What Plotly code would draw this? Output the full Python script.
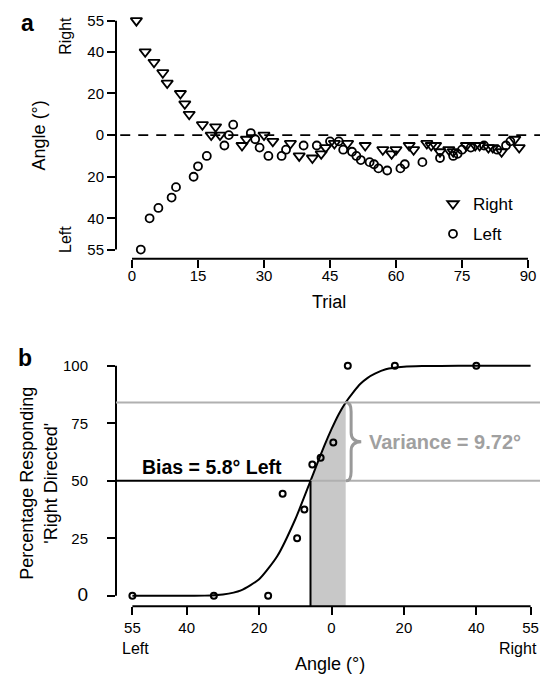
import plotly.graph_objects as go

# ---------------- Panel a: staircase data (trial, angle; Right = +, Left = -) ----------------
right_trial = [1, 3, 5, 7, 8, 11, 12, 13, 16, 18, 19, 20, 25, 26, 30, 32, 36, 38, 41, 43,
               44, 46, 49, 53, 57, 59, 60, 63, 64, 67, 68, 69, 70, 72, 73, 76, 78, 79, 81, 82,
               84, 87, 88]
right_angle = [55, 40, 35, 30, 25, 20, 15, 10, 5, 0, 4, 0, -5, -2, 0, -3, -4, -10, -11, -9,
               -6, -4, -4, -5, -7, -9, -7, -5, -7, -4, -5, -5, -8, -7, -8, -5, -5, -5, -6, -6,
               -8, -2, -6]
left_trial = [2, 4, 6, 9, 10, 14, 15, 17, 21, 22, 23, 27, 28, 29, 31, 34, 35, 39, 42, 45,
              47, 48, 50, 51, 52, 54, 55, 56, 58, 61, 62, 66, 70, 73, 74, 75, 77, 80, 83, 85,
              86]
left_angle = [-55, -40, -35, -30, -25, -20, -15, -10, -5, 0, 5, 1, -2, -6, -10, -10, -7, -5, -5, -3,
              -3, -7, -8, -10, -12, -13, -14, -16, -17, -16, -14, -13, -11, -10, -9, -7, -6, -5, -7, -5,
              -3]
a_xticks = [0, 15, 30, 45, 60, 75, 90]
a_yticks = [-55, -40, -20, 0, 20, 40, 55]
a_yticklabels = ["55", "40", "20", "0", "20", "40", "55"]

# ---------------- Panel b: psychometric data ----------------
b_angle = [-55, -32.5, -17.5, -13.5, -9.5, -7.5, -5.3, -3, 0.5, 4.5, 17.5, 40]
b_pct = [0, 0, 0, 44.4, 25, 37.5, 57.1, 60, 66.7, 100, 100, 100]
curve_angle = [-55, -45, -35, -30, -25, -20, -15, -10, -5.8, -4, -2, 0, 2, 3.92,
               6, 8, 10, 12, 15, 20, 25, 35, 55]
curve_pct = [0, 0, 0.1, 0.6, 2.4, 7.2, 17.2, 33.3, 50, 57.3, 65.2, 72.5, 79, 84.1,
             88.5, 92.2, 94.8, 96.6, 98.5, 99.6, 99.9, 100, 100]
bias = -5.8
variance = 9.72
sd_pct = 84.1
b_xticks = [-55, -40, -20, 0, 20, 40, 55]
b_xticklabels = ["55", "40", "20", "0", "20", "40", "55"]
b_yticks = [0, 25, 50, 75, 100]
b_yticklabels = ['<span style="font-size:19px">0</span>', "25", "50", "75", "100"]

# ---------------- layout geometry (pixels) ----------------
W, H = 540, 674
FONT = "Liberation Sans, Arial, Helvetica, sans-serif"


def xdom(p0, p1):
    return [p0 / W, p1 / W]


def ydom(top, bottom):
    return [1 - bottom / H, 1 - top / H]


# panel a: trial 0 at px 132, 4.4 px/trial; angle 0 at py 132.7, 2.09 px/deg
a_px0, a_px1, a_py0, a_py1 = 116, 540, 12, 257
a_xr = [(a_px0 - 132) / 4.4, (a_px1 - 132) / 4.4]
a_yr = [(132.7 - a_py1) / 2.09, (132.7 - a_py0) / 2.09]
# panel b: angle 0 at px 331.5, 3.62 px/deg; pct 0 at py 595.5, 2.31 px/pct
b_px0, b_px1, b_py0, b_py1 = 116, 540, 345, 606
b_xr = [(b_px0 - 331.5) / 3.62, (b_px1 - 331.5) / 3.62]
b_yr = [(595.5 - b_py1) / 2.31, (595.5 - b_py0) / 2.31]

fig = go.Figure()

# ---- panel a traces ----
fig.add_trace(go.Scatter(
    x=right_trial, y=right_angle, mode="markers", name="Right",
    legendgroup="r",
    marker=dict(symbol="triangle-down-open", size=10, color="black",
                line=dict(width=1.8, color="black")),
    xaxis="x", yaxis="y", cliponaxis=False))
fig.add_trace(go.Scatter(
    x=left_trial, y=left_angle, mode="markers", name="Left",
    legendgroup="l",
    marker=dict(symbol="circle-open", size=8, color="black",
                line=dict(width=1.8, color="black")),
    xaxis="x", yaxis="y", cliponaxis=False))

# ---- panel b traces ----
lo = bias - 1e-6
hi = bias + variance + 0.01
shade_x = [a for a in curve_angle if lo <= a <= hi]
shade_y = [p for a, p in zip(curve_angle, curve_pct) if lo <= a <= hi]
poly_x = [shade_x[0]] + shade_x + [shade_x[-1], shade_x[0]]
poly_y = [b_yr[0]] + shade_y + [b_yr[0], b_yr[0]]
fig.add_trace(go.Scatter(
    x=poly_x, y=poly_y, mode="lines", fill="toself",
    fillcolor="#c8c8c8", line=dict(width=0, color="rgba(0,0,0,0)"),
    showlegend=False, hoverinfo="skip", xaxis="x2", yaxis="y2"))
fig.add_trace(go.Scatter(
    x=curve_angle, y=curve_pct, mode="lines",
    line=dict(color="black", width=2, shape="spline", smoothing=0.6),
    showlegend=False, xaxis="x2", yaxis="y2"))
fig.add_trace(go.Scatter(
    x=b_angle, y=b_pct, mode="markers",
    marker=dict(symbol="circle-open", size=6, color="black",
                line=dict(width=2, color="black")),
    showlegend=False, xaxis="x2", yaxis="y2", cliponaxis=False))

tickfont = dict(family=FONT, size=15, color="black")

fig.update_layout(
    width=W, height=H,
    margin=dict(l=0, r=0, t=0, b=0),
    paper_bgcolor="white", plot_bgcolor="white",
    font=dict(family=FONT, color="black"),
    showlegend=True,
    legend=dict(x=433 / W, y=1 - 184 / H, xanchor="left", yanchor="top",
                bgcolor="rgba(0,0,0,0)", borderwidth=0,
                font=dict(family=FONT, size=17, color="black"),
                tracegroupgap=5, itemwidth=30),
    xaxis=dict(domain=xdom(a_px0, a_px1), range=a_xr, anchor="y",
               tickvals=a_xticks, ticks="outside", ticklen=8, tickwidth=2,
               tickcolor="black", showline=False, showgrid=False, zeroline=False,
               tickfont=tickfont, ticklabelstandoff=-5),
    yaxis=dict(domain=ydom(a_py0, a_py1), range=a_yr, anchor="x",
               tickvals=a_yticks, ticktext=a_yticklabels, ticks="outside",
               ticklen=8, tickwidth=2, tickcolor="black", showline=False,
               showgrid=False, zeroline=False, tickfont=tickfont),
    xaxis2=dict(domain=xdom(b_px0, b_px1), range=b_xr, anchor="y2",
                tickvals=b_xticks, ticktext=b_xticklabels, ticks="outside",
                ticklen=8, tickwidth=2, tickcolor="black", showline=False,
                showgrid=False, zeroline=False, tickfont=tickfont,
                ticklabelstandoff=0),
    yaxis2=dict(domain=ydom(b_py0, b_py1), range=b_yr, anchor="x2",
                tickvals=b_yticks, ticktext=b_yticklabels, ticks="outside",
                ticklen=8, tickwidth=2, tickcolor="black", showline=False,
                showgrid=False, zeroline=False, tickfont=tickfont,
                ticklabelstandoff=16),
)

shapes = []
# panel a axis lines
shapes.append(dict(type="line", xref="x", yref="y domain", x0=a_xticks[0], x1=a_xticks[-1],
                   y0=0, y1=0, line=dict(color="black", width=2)))
shapes.append(dict(type="line", xref="x domain", yref="y", x0=0, x1=0,
                   y0=a_yticks[0], y1=a_yticks[-1], line=dict(color="black", width=2)))
# dashed zero line
shapes.append(dict(type="line", xref="x domain", yref="y", x0=0.01, x1=1, y0=0, y1=0,
                   line=dict(color="black", width=1.6, dash="10px,8px")))
# panel b axis lines
shapes.append(dict(type="line", xref="x2", yref="y2 domain", x0=b_xticks[0], x1=b_xticks[-1],
                   y0=0, y1=0, line=dict(color="black", width=2)))
shapes.append(dict(type="line", xref="x2 domain", yref="y2", x0=0, x1=0,
                   y0=b_yticks[0], y1=b_yticks[-1], line=dict(color="black", width=2)))
# grey reference lines
shapes.append(dict(type="line", xref="x2 domain", yref="y2", x0=0, x1=1, y0=sd_pct, y1=sd_pct,
                   line=dict(color="#b0b0b0", width=2)))
shapes.append(dict(type="line", xref="x2", yref="y2", x0=bias, x1=b_xr[1], y0=50, y1=50,
                   line=dict(color="#b0b0b0", width=2)))
# bias lines
shapes.append(dict(type="line", xref="x2", yref="y2", x0=b_xr[0], x1=bias, y0=50, y1=50,
                   line=dict(color="black", width=2)))
shapes.append(dict(type="line", xref="x2", yref="y2", x0=bias, x1=bias, y0=b_yr[0], y1=50,
                   line=dict(color="black", width=2)))
# curly brace for variance
bx0 = bias + variance + 0.1
bx1 = bx0 + 1.4
bx2 = bx0 + 4.2
mid = (sd_pct + 50) / 2
brace = (f"M {bx0},{sd_pct} Q {bx1},{sd_pct} {bx1},{sd_pct-4} L {bx1},{mid+4} "
         f"Q {bx1},{mid} {bx2},{mid} Q {bx1},{mid} {bx1},{mid-4} L {bx1},{50+4} "
         f"Q {bx1},{50} {bx0},{50}")
shapes.append(dict(type="path", xref="x2", yref="y2", path=brace,
                   line=dict(color="#999999", width=3)))
fig.update_layout(shapes=shapes)

ann = []


def paper_text(text, px, py, size, bold=False, angle=0, xanchor="center", color="black"):
    t = f"<b>{text}</b>" if bold else text
    ann.append(dict(text=t, x=px / W, y=1 - py / H, xref="paper", yref="paper",
                    xanchor=xanchor, yanchor="middle", showarrow=False, textangle=angle,
                    font=dict(family=FONT, size=size, color=color)))


paper_text("a", 27, 20, 23, bold=True)
paper_text("b", 25, 357, 23, bold=True)
paper_text("Angle (°)", 39, 133, 18, angle=-90)
paper_text("Right", 66, 33, 16, angle=-90)
paper_text("Left", 66, 238, 16, angle=-90)
paper_text("Trial", 329, 300, 18)
paper_text("Percentage Responding<br>'Right Directed'", 39, 482, 18, angle=-90)
paper_text("Left", 135, 648, 16)
paper_text("Right", 518, 648, 16)
paper_text("Angle (°)", 330, 664, 18)

ann.append(dict(text="<b>Bias = 5.8° Left</b>", x=b_xr[0] + 6.6, y=50, xref="x2", yref="y2",
                xanchor="left", yanchor="bottom", yshift=1, showarrow=False,
                font=dict(family=FONT, size=19.5, color="black")))
ann.append(dict(text="<b>Variance = 9.72°</b>", x=bias + variance + 6.0, y=mid, xref="x2", yref="y2",
                xanchor="left", yanchor="middle", showarrow=False,
                font=dict(family=FONT, size=20, color="#a0a0a0")))
fig.update_layout(annotations=ann)

fig.write_html("out.html", config={"displayModeBar": False},
               post_script="document.body.style.margin='0';document.body.style.overflow='hidden';")
